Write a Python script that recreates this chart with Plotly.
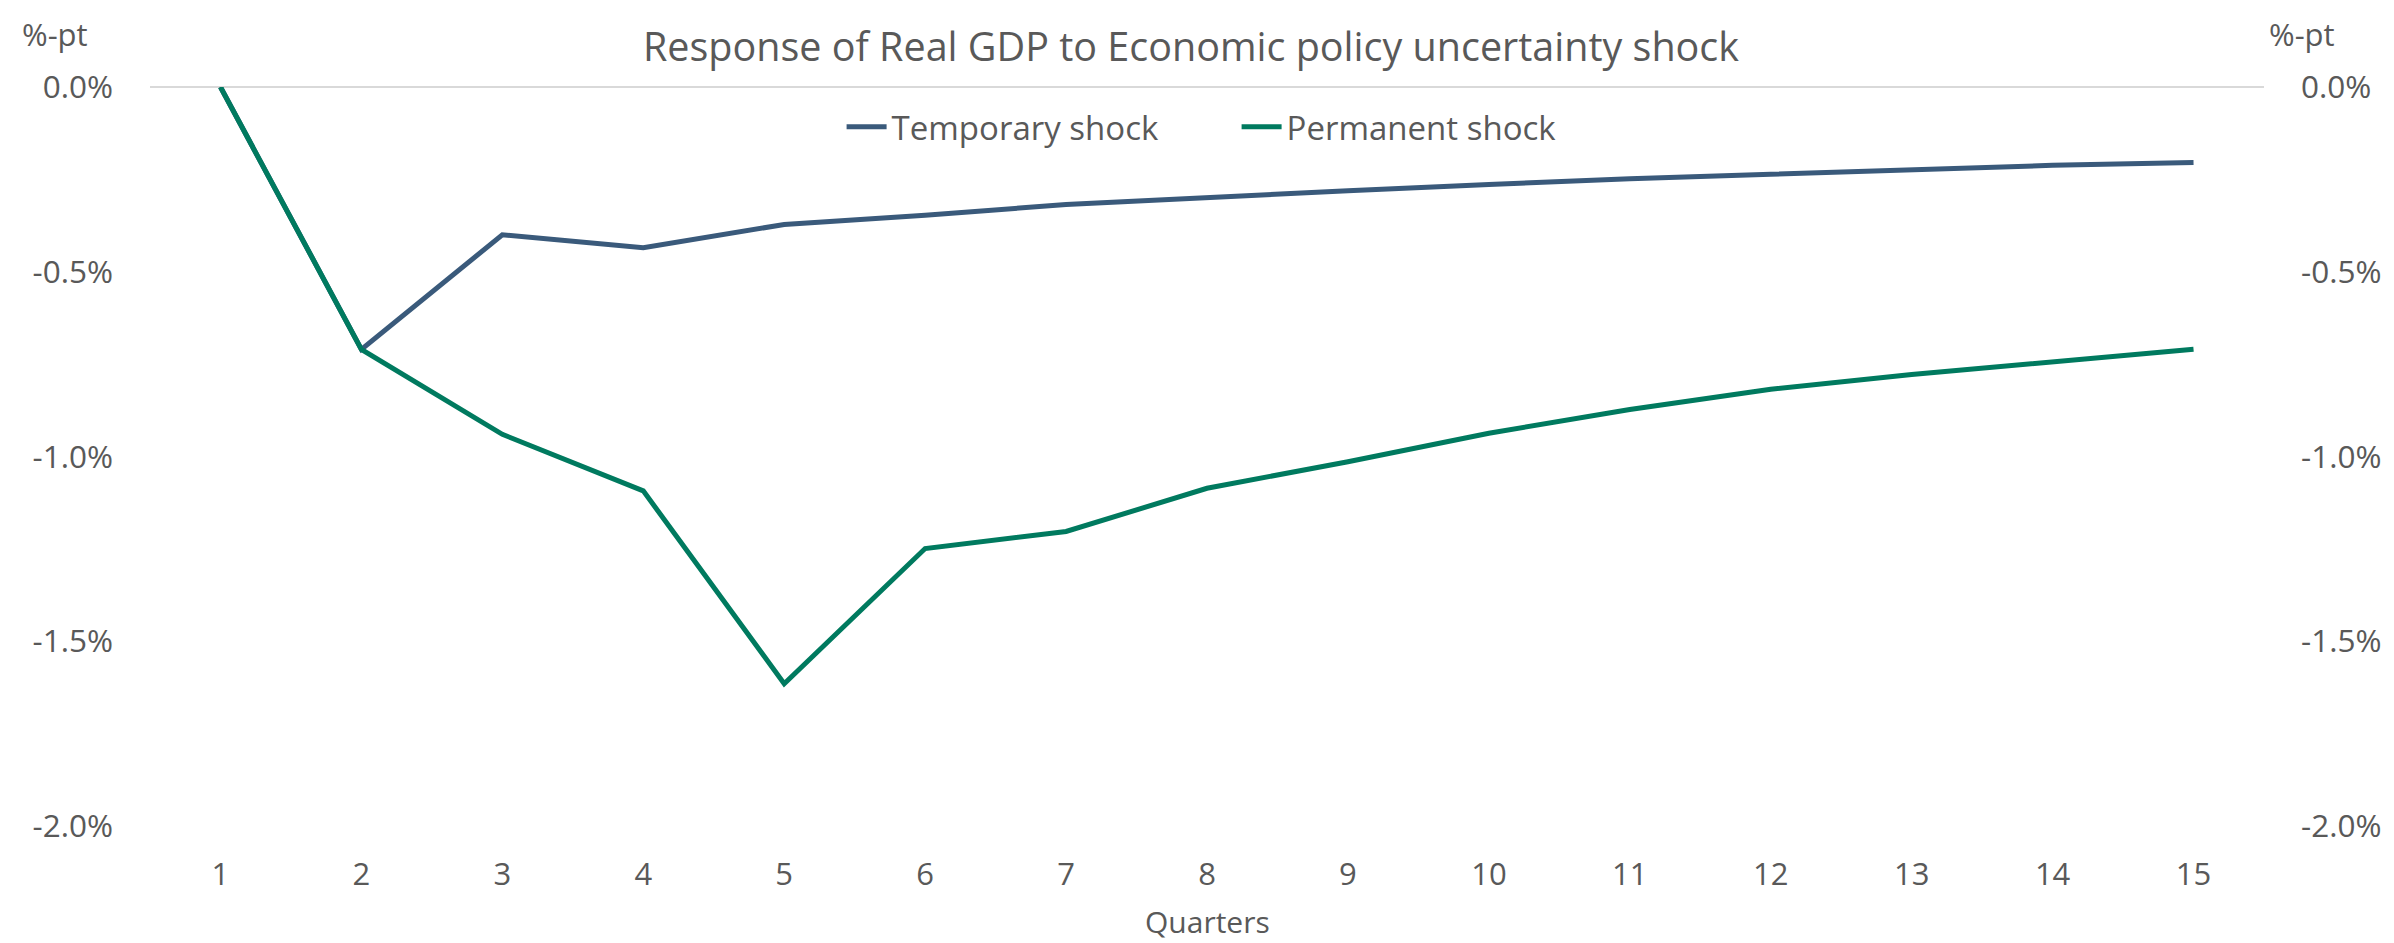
import plotly.graph_objects as go

quarters = [1, 2, 3, 4, 5, 6, 7, 8, 9, 10, 11, 12, 13, 14, 15]
temporary = [0.0, -0.71, -0.40, -0.435, -0.372, -0.347, -0.318, -0.298, -0.281, -0.264, -0.248, -0.236, -0.223, -0.212, -0.204]
permanent = [0.0, -0.71, -0.94, -1.093, -1.615, -1.249, -1.203, -1.086, -1.014, -0.937, -0.873, -0.818, -0.778, -0.743, -0.710]
y_tickvals = [0.0, -0.5, -1.0, -1.5, -2.0]
y_ticktext = ["0.0%", "-0.5%", "-1.0%", "-1.5%", "-2.0%"]

TEXT = "#595959"
FONT = "Open Sans"
BLUE = "#3A5A7B"
GREEN = "#007A5F"

fig = go.Figure()
fig.add_trace(go.Scatter(x=quarters, y=temporary, mode="lines", name="Temporary shock",
                         line=dict(color=BLUE, width=5)))
fig.add_trace(go.Scatter(x=quarters, y=permanent, mode="lines", name="Permanent shock",
                         line=dict(color=GREEN, width=5)))
# helper trace so the right-hand axis is rendered
fig.add_trace(go.Scatter(x=quarters, y=temporary, mode="lines", yaxis="y2", showlegend=False,
                         hoverinfo="skip", line=dict(color="rgba(0,0,0,0)", width=0)))

fig.update_layout(
    width=2394, height=943,
    margin=dict(l=150, r=130, t=87, b=117),
    paper_bgcolor="white", plot_bgcolor="white",
    font=dict(family=FONT, color=TEXT, size=31),
    title=dict(text="Response of Real GDP to Economic policy uncertainty shock",
               x=0.4975, xanchor="center", xref="container",
               y=1 - 47 / 943, yanchor="middle", yref="container",
               font=dict(family=FONT, size=39.5, color=TEXT)),
    showlegend=True,
    legend=dict(orientation="h", x=0.514, xanchor="center", y=0.946, yanchor="middle",
                font=dict(family=FONT, size=33, color=TEXT), bgcolor="rgba(0,0,0,0)",
                entrywidth=340, itemwidth=40),
    xaxis=dict(range=[0.5, 15.5], tickvals=quarters, ticktext=[str(q) for q in quarters],
               showgrid=False, zeroline=False, showline=False, ticks="",
               ticklabelstandoff=27, tickfont=dict(size=31, color=TEXT, family=FONT)),
    yaxis=dict(range=[-2.0, 0.0], tickvals=y_tickvals, ticktext=y_ticktext,
               showgrid=False, zeroline=True, zerolinecolor="#D9D9D9", zerolinewidth=2,
               showline=False, ticks="", ticklabelstandoff=36,
               tickfont=dict(size=31.5, color=TEXT, family=FONT)),
    yaxis2=dict(range=[-2.0, 0.0], tickvals=y_tickvals, ticktext=y_ticktext, overlaying="y",
                side="right", showgrid=False, zeroline=False, showline=False, ticks="",
                ticklabelstandoff=36, tickfont=dict(size=31.5, color=TEXT, family=FONT)),
    annotations=[
        dict(text="%-pt", xref="paper", yref="paper", x=-0.0449, y=1 + 53 / 739,
             xanchor="center", yanchor="middle", showarrow=False,
             font=dict(family=FONT, size=31, color=TEXT)),
        dict(text="%-pt", xref="paper", yref="paper", x=1.018, y=1 + 53 / 739,
             xanchor="center", yanchor="middle", showarrow=False,
             font=dict(family=FONT, size=31, color=TEXT)),
        dict(text="Quarters", xref="paper", yref="paper", x=0.5, y=-(921 - 826) / 739,
             xanchor="center", yanchor="middle", showarrow=False,
             font=dict(family=FONT, size=30, color=TEXT)),
    ],
)

fig.write_html("out.html")
